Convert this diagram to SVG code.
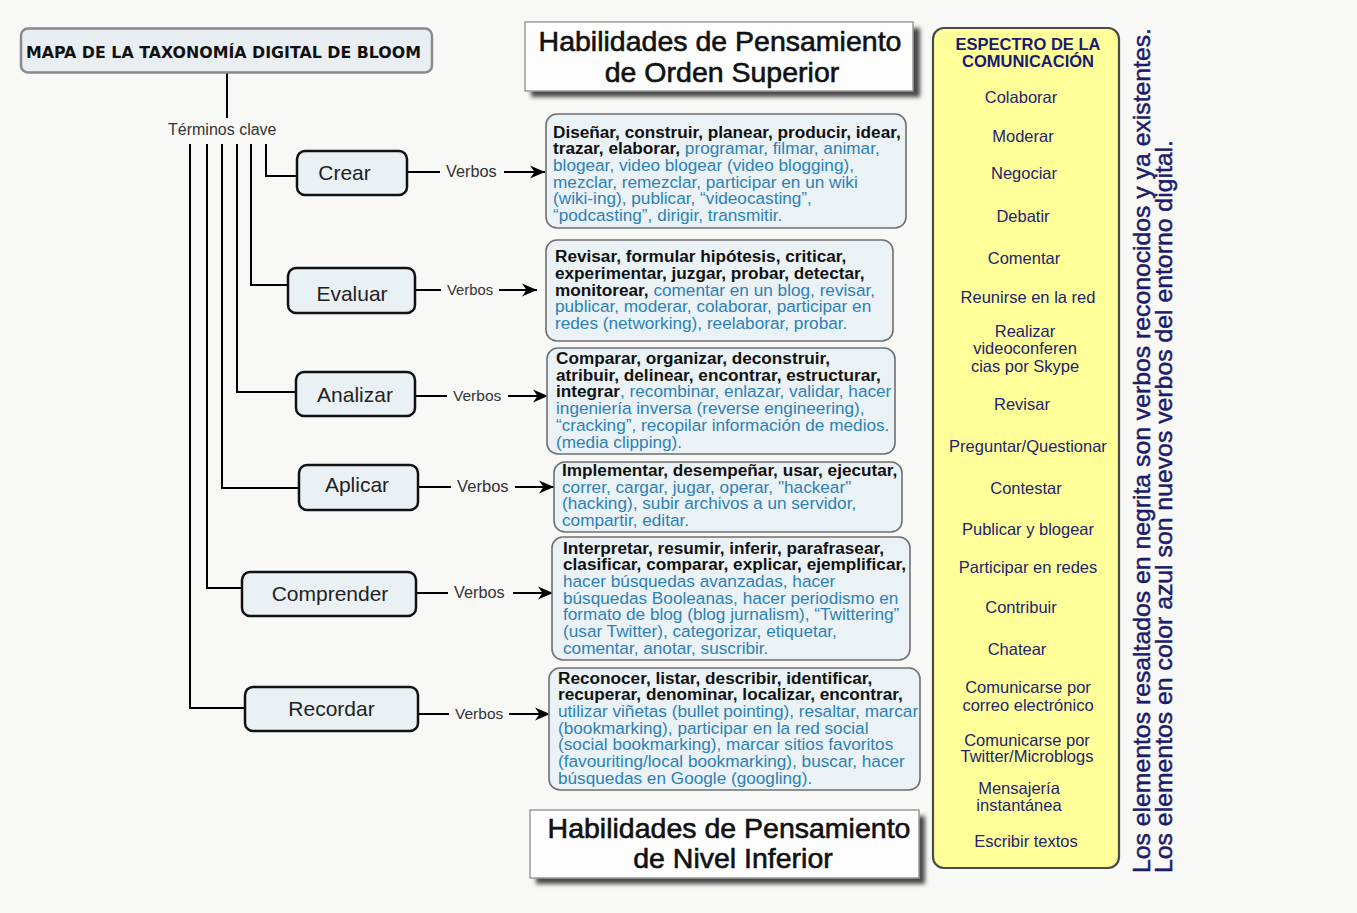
<svg xmlns="http://www.w3.org/2000/svg" width="1357" height="913" viewBox="0 0 1357 913">
<style>
.f{font-family:"Liberation Sans",Arial,Helvetica,sans-serif}
.tx{font-family:"Liberation Sans",Arial,Helvetica,sans-serif;font-size:17.2px;fill:#2e80b5}
.b{font-weight:bold;fill:#111}
.u{fill:#2e80b5}
.node rect{fill:#eaf1f4;stroke:#111;stroke-width:2.5}
.node text{font-family:"Liberation Sans",Arial,sans-serif;font-size:21px;fill:#222}
.vb{font-family:"Liberation Sans",Arial,sans-serif;font-size:15.5px;fill:#333}
.box{fill:#eaf2f6;stroke:#6e6e6e;stroke-width:1.6}
.ln{stroke:#000;stroke-width:2;fill:none}
.hd{fill:#fdfdfd;stroke:#9a9a9a;stroke-width:1.5}
.hdt{font-family:"Liberation Sans",Arial,sans-serif;font-size:28.5px;fill:#111;stroke:#111;stroke-width:0.6;text-anchor:middle}
.sp{font-family:"Liberation Sans",Arial,sans-serif;font-size:16.5px;fill:#23236b;text-anchor:middle}
</style>
<defs>
<marker id="ah" markerUnits="userSpaceOnUse" markerWidth="18" markerHeight="16" refX="15" refY="7" orient="auto">
<path d="M0,0.5 L15,7 L0,13.5 L4.5,7 Z" fill="#000"/>
</marker>
<filter id="sh" x="-5%" y="-20%" width="115%" height="150%"><feGaussianBlur stdDeviation="2"/></filter>
</defs>
<rect width="1357" height="913" fill="#f8f8f7"/>

<g id="connectors">
<line class="ln" x1="227" y1="73" x2="227" y2="118"/>
<polyline class="ln" points="266,144 266,176 297,176"/>
<polyline class="ln" points="251,144 251,285 288,285"/>
<polyline class="ln" points="237,144 237,392 296,392"/>
<polyline class="ln" points="222,144 222,488 299,488"/>
<polyline class="ln" points="207,144 207,588 242,588"/>
<polyline class="ln" points="190,144 190,708 245,708"/>
<line class="ln" x1="407" y1="172" x2="440" y2="172"/>
<line class="ln" x1="415" y1="290" x2="441" y2="290"/>
<line class="ln" x1="415" y1="396" x2="447" y2="396"/>
<line class="ln" x1="418" y1="487" x2="451" y2="487"/>
<line class="ln" x1="416" y1="593" x2="448" y2="593"/>
<line class="ln" x1="418" y1="714" x2="449" y2="714"/>
<text class="vb" x="446" y="177" style="font-size:16.3px">Verbos</text>
<text class="vb" x="447" y="295" style="font-size:14.8px">Verbos</text>
<text class="vb" x="453" y="401">Verbos</text>
<text class="vb" x="457" y="492" style="font-size:16.6px">Verbos</text>
<text class="vb" x="454" y="598" style="font-size:16.3px">Verbos</text>
<text class="vb" x="455" y="719">Verbos</text>
<line class="ln" x1="504" y1="172" x2="545" y2="172" marker-end="url(#ah)"/>
<line class="ln" x1="499" y1="290" x2="537" y2="290" marker-end="url(#ah)"/>
<line class="ln" x1="508" y1="396" x2="548" y2="396" marker-end="url(#ah)"/>
<line class="ln" x1="515" y1="487" x2="554" y2="487" marker-end="url(#ah)"/>
<line class="ln" x1="513" y1="593" x2="553" y2="593" marker-end="url(#ah)"/>
<line class="ln" x1="509" y1="714" x2="550" y2="714" marker-end="url(#ah)"/>
</g>

<g id="title">
<rect x="21" y="28.5" width="411" height="44" rx="7" fill="#e8eef1" stroke="#8a8a8a" stroke-width="2.5"/>
<text x="26" y="57.5" font-family="'DejaVu Sans',Verdana,sans-serif" font-weight="bold" font-size="16" fill="#111" textLength="395" lengthAdjust="spacingAndGlyphs">MAPA DE LA TAXONOMÍA DIGITAL DE BLOOM</text>
</g>

<g id="terminos">
<text class="f" x="168" y="135" font-size="16" fill="#333">Términos clave</text>
</g>

<g id="crear" class="node"><rect x="297" y="151" width="110" height="44" rx="8"/><text x="344.5" y="180" text-anchor="middle">Crear</text></g>
<g id="evaluar" class="node"><rect x="288" y="268" width="127" height="45" rx="8"/><text x="352" y="301" text-anchor="middle">Evaluar</text></g>
<g id="analizar" class="node"><rect x="296" y="372" width="119" height="44" rx="8"/><text x="355" y="402" text-anchor="middle">Analizar</text></g>
<g id="aplicar" class="node"><rect x="299" y="465" width="119" height="45" rx="8"/><text x="357" y="492" text-anchor="middle">Aplicar</text></g>
<g id="comprender" class="node"><rect x="242" y="572" width="174" height="44" rx="8"/><text x="330" y="601" text-anchor="middle">Comprender</text></g>
<g id="recordar" class="node"><rect x="245" y="687" width="173" height="44" rx="8"/><text x="331.5" y="716" text-anchor="middle">Recordar</text></g>

<g id="verbos-crear">
<rect class="box" x="546" y="114" width="360" height="114" rx="11"/>
<text class="tx">
<tspan x="553" y="137.5" class="b">Diseñar, construir, planear, producir, idear,</tspan>
<tspan x="553" y="154.2"><tspan class="b">trazar, elaborar,</tspan> programar, filmar, animar,</tspan>
<tspan x="553" y="170.9">blogear, video blogear (video blogging),</tspan>
<tspan x="553" y="187.6">mezclar, remezclar, participar en un wiki</tspan>
<tspan x="553" y="204.3">(wiki-ing), publicar, “videocasting”,</tspan>
<tspan x="553" y="221">“podcasting”, dirigir, transmitir.</tspan>
</text>
</g>

<g id="verbos-evaluar">
<rect class="box" x="546" y="240" width="347" height="101" rx="11"/>
<text class="tx">
<tspan x="555" y="262.3" class="b">Revisar, formular hipótesis, criticar,</tspan>
<tspan x="555" y="279" class="b">experimentar, juzgar, probar, detectar,</tspan>
<tspan x="555" y="295.7"><tspan class="b">monitorear,</tspan> comentar en un blog, revisar,</tspan>
<tspan x="555" y="312.4">publicar, moderar, colaborar, participar en</tspan>
<tspan x="555" y="329.1">redes (networking), reelaborar, probar.</tspan>
</text>
</g>

<g id="verbos-analizar">
<rect class="box" x="547" y="348" width="348" height="106" rx="11"/>
<text class="tx">
<tspan x="556" y="364" class="b">Comparar, organizar, deconstruir,</tspan>
<tspan x="556" y="380.7" class="b">atribuir, delinear, encontrar, estructurar,</tspan>
<tspan x="556" y="397.4"><tspan class="b">integrar</tspan>, recombinar, enlazar, validar, hacer</tspan>
<tspan x="556" y="414.1">ingeniería inversa (reverse engineering),</tspan>
<tspan x="556" y="430.8">“cracking”, recopilar información de medios.</tspan>
<tspan x="556" y="447.5">(media clipping).</tspan>
</text>
</g>

<g id="verbos-aplicar">
<rect class="box" x="554" y="462" width="348" height="70" rx="11"/>
<text class="tx">
<tspan x="562" y="476" class="b">Implementar, desempeñar, usar, ejecutar,</tspan>
<tspan x="562" y="492.7">correr, cargar, jugar, operar, "hackear"</tspan>
<tspan x="562" y="509.4">(hacking), subir archivos a un servidor,</tspan>
<tspan x="562" y="526.1">compartir, editar.</tspan>
</text>
</g>

<g id="verbos-comprender">
<rect class="box" x="552" y="537" width="358" height="123" rx="11"/>
<text class="tx">
<tspan x="563" y="553.5" class="b">Interpretar, resumir, inferir, parafrasear,</tspan>
<tspan x="563" y="570.2" class="b">clasificar, comparar, explicar, ejemplificar,</tspan>
<tspan x="563" y="586.9">hacer búsquedas avanzadas, hacer</tspan>
<tspan x="563" y="603.6">búsquedas Booleanas, hacer periodismo en</tspan>
<tspan x="563" y="620.3">formato de blog (blog jurnalism), “Twittering”</tspan>
<tspan x="563" y="637">(usar Twitter), categorizar, etiquetar,</tspan>
<tspan x="563" y="653.7">comentar, anotar, suscribir.</tspan>
</text>
</g>

<g id="verbos-recordar">
<rect class="box" x="549" y="668" width="371" height="122" rx="11"/>
<text class="tx">
<tspan x="558" y="683.5" class="b">Reconocer, listar, describir, identificar,</tspan>
<tspan x="558" y="700.2" class="b">recuperar, denominar, localizar, encontrar,</tspan>
<tspan x="558" y="716.9">utilizar viñetas (bullet pointing), resaltar, marcar</tspan>
<tspan x="558" y="733.6">(bookmarking), participar en la red social</tspan>
<tspan x="558" y="750.3">(social bookmarking), marcar sitios favoritos</tspan>
<tspan x="558" y="767">(favouriting/local bookmarking), buscar, hacer</tspan>
<tspan x="558" y="783.7">búsquedas en Google (googling).</tspan>
</text>
</g>

<g id="header-superior">
<rect x="531" y="28" width="389" height="69" fill="#4a4a4a" filter="url(#sh)"/>
<rect class="hd" x="525" y="22" width="388" height="69"/>
<text class="hdt" x="720" y="51">Habilidades de Pensamiento</text>
<text class="hdt" x="722" y="81.5">de Orden Superior</text>
</g>

<g id="header-inferior">
<rect x="536" y="816" width="389" height="68" fill="#4a4a4a" filter="url(#sh)"/>
<rect class="hd" x="530" y="810" width="389" height="68"/>
<text class="hdt" x="729" y="838">Habilidades de Pensamiento</text>
<text class="hdt" x="733" y="868">de Nivel Inferior</text>
</g>

<g id="espectro">
<rect x="933" y="28" width="186" height="840" rx="11" fill="#ffff99" stroke="#4a4a4a" stroke-width="2.2"/>
<text class="sp" x="1028" y="50" font-weight="bold" style="fill:#1a1a70">ESPECTRO DE LA</text>
<text class="sp" x="1028" y="66.7" font-weight="bold" style="fill:#1a1a70">COMUNICACIÓN</text>
<text class="sp" x="1021" y="103.3">Colaborar</text>
<text class="sp" x="1023" y="141.7">Moderar</text>
<text class="sp" x="1024" y="179.3">Negociar</text>
<text class="sp" x="1023" y="221.7">Debatir</text>
<text class="sp" x="1024" y="264.3">Comentar</text>
<text class="sp" x="1028" y="302.7">Reunirse en la red</text>
<text class="sp" x="1025" y="336.7">Realizar</text>
<text class="sp" x="1025" y="354.3">videoconferen</text>
<text class="sp" x="1025" y="371.7">cias por Skype</text>
<text class="sp" x="1022" y="410">Revisar</text>
<text class="sp" x="1028" y="451.7">Preguntar/Questionar</text>
<text class="sp" x="1026" y="494">Contestar</text>
<text class="sp" x="1028" y="535">Publicar y blogear</text>
<text class="sp" x="1028" y="573.3">Participar en redes</text>
<text class="sp" x="1021" y="613.3">Contribuir</text>
<text class="sp" x="1017" y="655">Chatear</text>
<text class="sp" x="1028" y="693.3">Comunicarse por</text>
<text class="sp" x="1028" y="710.7">correo electrónico</text>
<text class="sp" x="1027" y="745.7">Comunicarse por</text>
<text class="sp" x="1027" y="762.3">Twitter/Microblogs</text>
<text class="sp" x="1019" y="794">Mensajería</text>
<text class="sp" x="1019" y="810.7">instantánea</text>
<text class="sp" x="1026" y="846.7">Escribir textos</text>
</g>

<g id="nota">
<text class="f" transform="translate(1150,873) rotate(-90)" font-size="24.5" fill="#1c1c6a" stroke="#1c1c6a" stroke-width="0.5" textLength="845" lengthAdjust="spacingAndGlyphs">Los elementos resaltados en negrita son verbos reconocidos y ya existentes.</text>
<text class="f" transform="translate(1172,873) rotate(-90)" font-size="24.5" fill="#1c1c6a" stroke="#1c1c6a" stroke-width="0.5" textLength="733" lengthAdjust="spacingAndGlyphs">Los elementos en color azul son nuevos verbos del entorno digital.</text>
</g>
</svg>
